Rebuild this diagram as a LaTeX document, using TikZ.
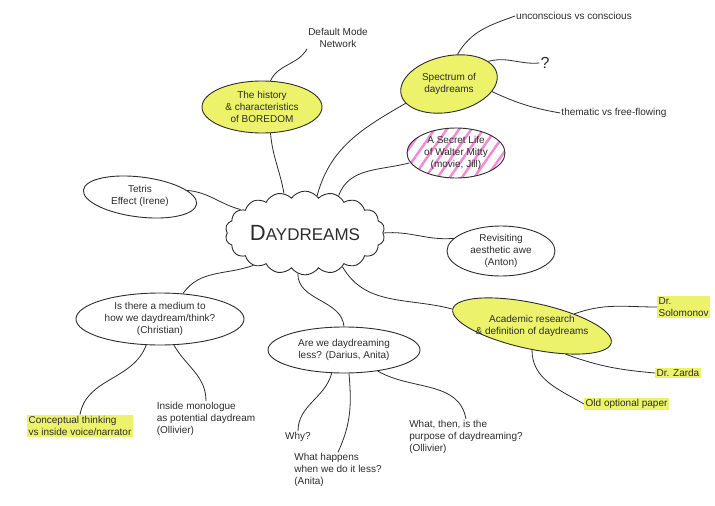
\documentclass[tikz,border=0pt]{standalone}
\usepackage{fontspec}
\setmainfont{Liberation Sans}
\usetikzlibrary{shapes.geometric,shapes.symbols,patterns.meta}
\definecolor{hilite}{RGB}{236,242,105}
\definecolor{ink}{RGB}{45,45,45}
\definecolor{pinkhatch}{RGB}{242,140,210}
\begin{document}
\begin{tikzpicture}[x=1pt,y=1pt,
  every node/.style={text=ink,font=\fontsize{10}{12}\selectfont,align=center},
  bubble/.style={ellipse,draw=ink,line width=0.9pt,inner sep=0pt},
  yellowbubble/.style={bubble,fill=hilite},
  note/.style={inner sep=1pt},
  hinote/.style={note,fill=hilite,inner sep=1.5pt},
  link/.style={draw=ink,line width=0.8pt}]
\useasboundingbox (0,0) rectangle (715,-506);
\fill[white] (0,0) rectangle (715,-506);
% central cloud
\node[cloud,draw=ink,line width=0.9pt,cloud puffs=18,cloud puff arc=110,aspect=2.2,
  minimum width=146,minimum height=76,inner sep=0pt,font=\fontsize{17}{20}\selectfont] (cloud) at (305,-233) {{\fontsize{22}{24}\selectfont D}AYDREAMS};
% bubbles
\node[yellowbubble,minimum width=120,minimum height=52] (boredom) at (262,-107) {The history\\\& characteristics\\of BOREDOM};
\node[yellowbubble,minimum width=98,minimum height=56,rotate=12] (spectrum) at (449,-84) {};
\node[note] (spectrumtext) at (449,-84) {Spectrum of\\daydreams};
\node[bubble,minimum width=98,minimum height=50,pattern={Lines[angle=55,distance=10pt,line width=2.5pt]},pattern color=pinkhatch] (mitty) at (456,-153) {A Secret Life\\of Walter Mitty\\(movie, Jill)};
\node[bubble,minimum width=114,minimum height=40,rotate=-7] (tetris) at (140,-197) {};
\node[note] (tetristext) at (140,-196) {Tetris\\Effect (Irene)};
\node[bubble,minimum width=108,minimum height=50] (revis) at (501,-251) {Revisiting\\aesthetic awe\\(Anton)};
\node[yellowbubble,minimum width=162,minimum height=46,rotate=-12] (acad) at (532,-326) {};
\node[note] (acadtext) at (532,-326) {Academic research\\\& definition of daydreams};
\node[bubble,minimum width=168,minimum height=52] (medium) at (160,-319) {Is there a medium to\\how we daydream/think?\\(Christian)};
\node[bubble,minimum width=152,minimum height=46] (less) at (344,-350) {Are we daydreaming\\less? (Darius, Anita)};
% free notes
\node[note] (dmn) at (338,-38) {Default Mode\\Network};
\node[note] (unc) at (574,-16) {unconscious vs conscious};
\node[note,font=\fontsize{16}{18}\selectfont] (q) at (545,-63) {?};
\node[note] (them) at (614,-113) {thematic vs free-flowing};
\node[hinote,anchor=west,align=left] (solo) at (657,-307) {Dr.\\Solomonov};
\node[hinote,anchor=west] (zarda) at (655,-373) {Dr. Zarda};
\node[hinote,anchor=west] (old) at (584,-404) {Old optional paper};
\node[hinote,align=left] (concept) at (80,-426) {Conceptual thinking\\vs inside voice/narrator};
\node[note,align=left] (mono) at (206,-419) {Inside monologue\\as potential daydream\\(Ollivier)};
\node[note] (why) at (298,-437) {Why?};
\node[note,align=left] (happ) at (338,-470) {What happens\\when we do it less?\\(Anita)};
\node[note,align=left] (purp) at (466,-437) {What, then, is the\\purpose of daydreaming?\\(Ollivier)};
% connectors
\path[link] (boredom.-72) to[out=-85,in=100] (cloud.118);
\path[link] (boredom.72) to[out=65,in=-120] (dmn.south west);
\path[link] (cloud.72) to[out=75,in=-150] (spectrum.192);
\path[link] (spectrum.62) to[out=60,in=-160] (unc.west);
\path[link] (spectrum.18) to[out=15,in=185] (q.west);
\path[link] (spectrum.-22) to[out=-25,in=170] (them.west);
\path[link] (cloud.48) to[out=70,in=-165] (mitty.192);
\path[link] (cloud.160) to[out=165,in=-5] (tetris.15);
\path[link] (cloud.east) to[out=5,in=185] (revis.165);
\path[link] (cloud.-42) to[out=-60,in=165] (acad.west);
\path[link] (acad.28) to[out=20,in=180] (solo.west);
\path[link] (acad.-28) to[out=-20,in=175] (zarda.west);
\path[link] (acad.-78) to[out=-90,in=150] (old.west);
\path[link] (cloud.-148) to[out=-160,in=55] (medium.48);
\path[link] (medium.-118) to[out=-110,in=80] (concept.north);
\path[link] (medium.-62) to[out=-60,in=90] (mono.north);
\path[link] (cloud.-100) to[out=-90,in=95] (less.north);
\path[link] (less.-118) to[out=-105,in=90] (why.north);
\path[link] (less.-78) to[out=-85,in=65] (happ.north);
\path[link] (less.-32) to[out=-30,in=100] (purp.north);
\end{tikzpicture}
\end{document}
